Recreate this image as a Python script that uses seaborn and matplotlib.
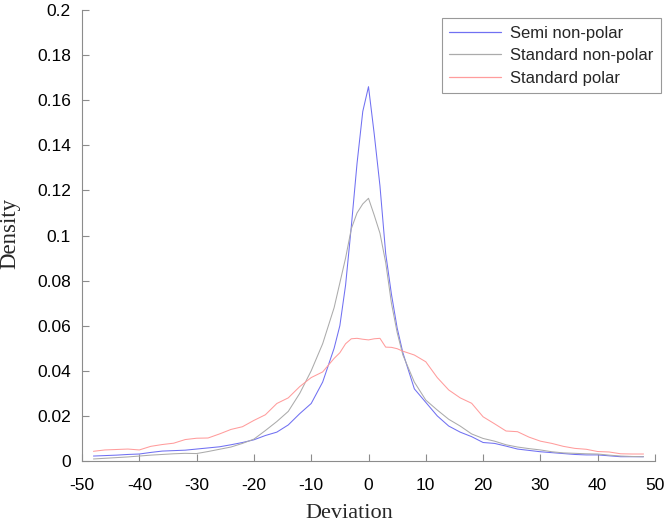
import numpy as np
import pandas as pd
import matplotlib
matplotlib.use("Agg")
import matplotlib.pyplot as plt
import seaborn as sns

deviation = [-48, -46, -44, -42, -40, -38, -36, -34, -32, -30, -28, -26, -24, -22,
             -20, -18, -16, -14, -12, -10, -8, -6, -5, -4, -3, -2, -1, 0, 1, 2, 3,
             4, 5, 6, 8, 10, 12, 14, 16, 18, 20, 22, 24, 26, 28, 30, 32, 34, 36,
             38, 40, 42, 44, 46, 48]

semi_nonpolar = [0.0022, 0.0024, 0.0026, 0.0029, 0.0031, 0.0038, 0.0044, 0.0046,
                 0.0048, 0.0053, 0.0058, 0.0063, 0.0072, 0.0082, 0.0094, 0.0113,
                 0.0128, 0.016, 0.021, 0.0255, 0.035, 0.050, 0.060, 0.078, 0.104,
                 0.132, 0.155, 0.166, 0.145, 0.122, 0.092, 0.074, 0.059, 0.048,
                 0.032, 0.026, 0.020, 0.0155, 0.0128, 0.0108, 0.0082, 0.0078,
                 0.0066, 0.0053, 0.0047, 0.0041, 0.0037, 0.0033, 0.0029, 0.0027,
                 0.0027, 0.0023, 0.0019, 0.0019, 0.0019]

standard_nonpolar = [0.0009, 0.0012, 0.0015, 0.0018, 0.0022, 0.0026, 0.0029, 0.0032,
                     0.0034, 0.0033, 0.0042, 0.0052, 0.0062, 0.0078, 0.0097, 0.0135,
                     0.0175, 0.022, 0.030, 0.040, 0.052, 0.068, 0.079, 0.090, 0.103,
                     0.110, 0.114, 0.1165, 0.109, 0.101, 0.088, 0.070, 0.057, 0.047,
                     0.035, 0.027, 0.0226, 0.0185, 0.0155, 0.012, 0.010, 0.0088,
                     0.0072, 0.0062, 0.0055, 0.0049, 0.0041, 0.0036, 0.0034, 0.0032,
                     0.0031, 0.0026, 0.0022, 0.0020, 0.0019]

standard_polar = [0.0043, 0.0049, 0.0051, 0.0053, 0.0049, 0.0065, 0.0073, 0.0079,
                  0.0095, 0.0101, 0.0102, 0.0120, 0.0140, 0.0152, 0.0180, 0.0205,
                  0.0255, 0.0280, 0.0330, 0.0370, 0.0395, 0.0455, 0.048, 0.052,
                  0.0542, 0.0544, 0.054, 0.0537, 0.0542, 0.0544, 0.0505, 0.0504,
                  0.0498, 0.0487, 0.0470, 0.0440, 0.0370, 0.0315, 0.0280, 0.0256,
                  0.0196, 0.0165, 0.0133, 0.0130, 0.0106, 0.0088, 0.0078, 0.0065,
                  0.0056, 0.0052, 0.0042, 0.0040, 0.0032, 0.0031, 0.0031]

series_names = ["Semi non-polar", "Standard non-polar", "Standard polar"]
x_ticks = [-50, -40, -30, -20, -10, 0, 10, 20, 30, 40, 50]
y_ticks = [0, 0.02, 0.04, 0.06, 0.08, 0.1, 0.12, 0.14, 0.16, 0.18, 0.2]
y_tick_labels = ["0", "0.02", "0.04", "0.06", "0.08", "0.1", "0.12", "0.14", "0.16", "0.18", "0.2"]

frames = []
for name, vals in zip(series_names, [semi_nonpolar, standard_nonpolar, standard_polar]):
    frames.append(pd.DataFrame({"Deviation": deviation, "Density": vals, "Series": name}))
df = pd.concat(frames, ignore_index=True)

sns.set_theme(style="white")
plt.rcParams["font.family"] = ["Liberation Sans", "DejaVu Sans"]

fig = plt.figure(figsize=(6.72, 5.27), dpi=100)
ax = fig.add_axes([82 / 672, 66 / 527, 573 / 672, 451 / 527])

palette = {"Semi non-polar": "#7070f2", "Standard non-polar": "#ababab",
           "Standard polar": "#ff9c9c"}
sns.lineplot(data=df, x="Deviation", y="Density", hue="Series", palette=palette,
             linewidth=0.75, ax=ax, sort=False)

ax.set_xlim(-50, 50)
ax.set_ylim(0, 0.2)
ax.set_xticks(x_ticks)
ax.set_xticklabels([str(t) for t in x_ticks])
ax.set_yticks(y_ticks)
ax.set_yticklabels(y_tick_labels)

for side in ["top", "right"]:
    ax.spines[side].set_visible(False)
for side in ["left", "bottom"]:
    ax.spines[side].set_color("#8c8c8c")
    ax.spines[side].set_linewidth(0.8)

ax.tick_params(axis="both", direction="in", length=5, width=0.8, color="#8c8c8c",
               labelsize=12.5, labelcolor="black")
ax.tick_params(axis="x", pad=12)
ax.tick_params(axis="y", pad=8)
ax.tick_params(bottom=True, left=True)

ax.set_xlabel("Deviation", fontsize=16, family=["Liberation Serif"])
ax.set_ylabel("Density", fontsize=16.5, family=["Liberation Serif"])
ax.xaxis.set_label_coords(0.466, -0.095)
ax.yaxis.set_label_coords(-0.108, 0.505)

leg = ax.legend(loc="upper right", bbox_to_anchor=(1.0105, 0.982), fontsize=12,
                frameon=True, fancybox=False, handlelength=3.1, handletextpad=0.55,
                labelspacing=0.45, borderpad=0.45, borderaxespad=0)
leg.get_frame().set_edgecolor("#808080")
leg.get_frame().set_linewidth(0.8)
leg.set_title(None)
for h in leg.get_lines():
    h.set_linewidth(0.9)

fig.savefig("out.png", dpi=100)
